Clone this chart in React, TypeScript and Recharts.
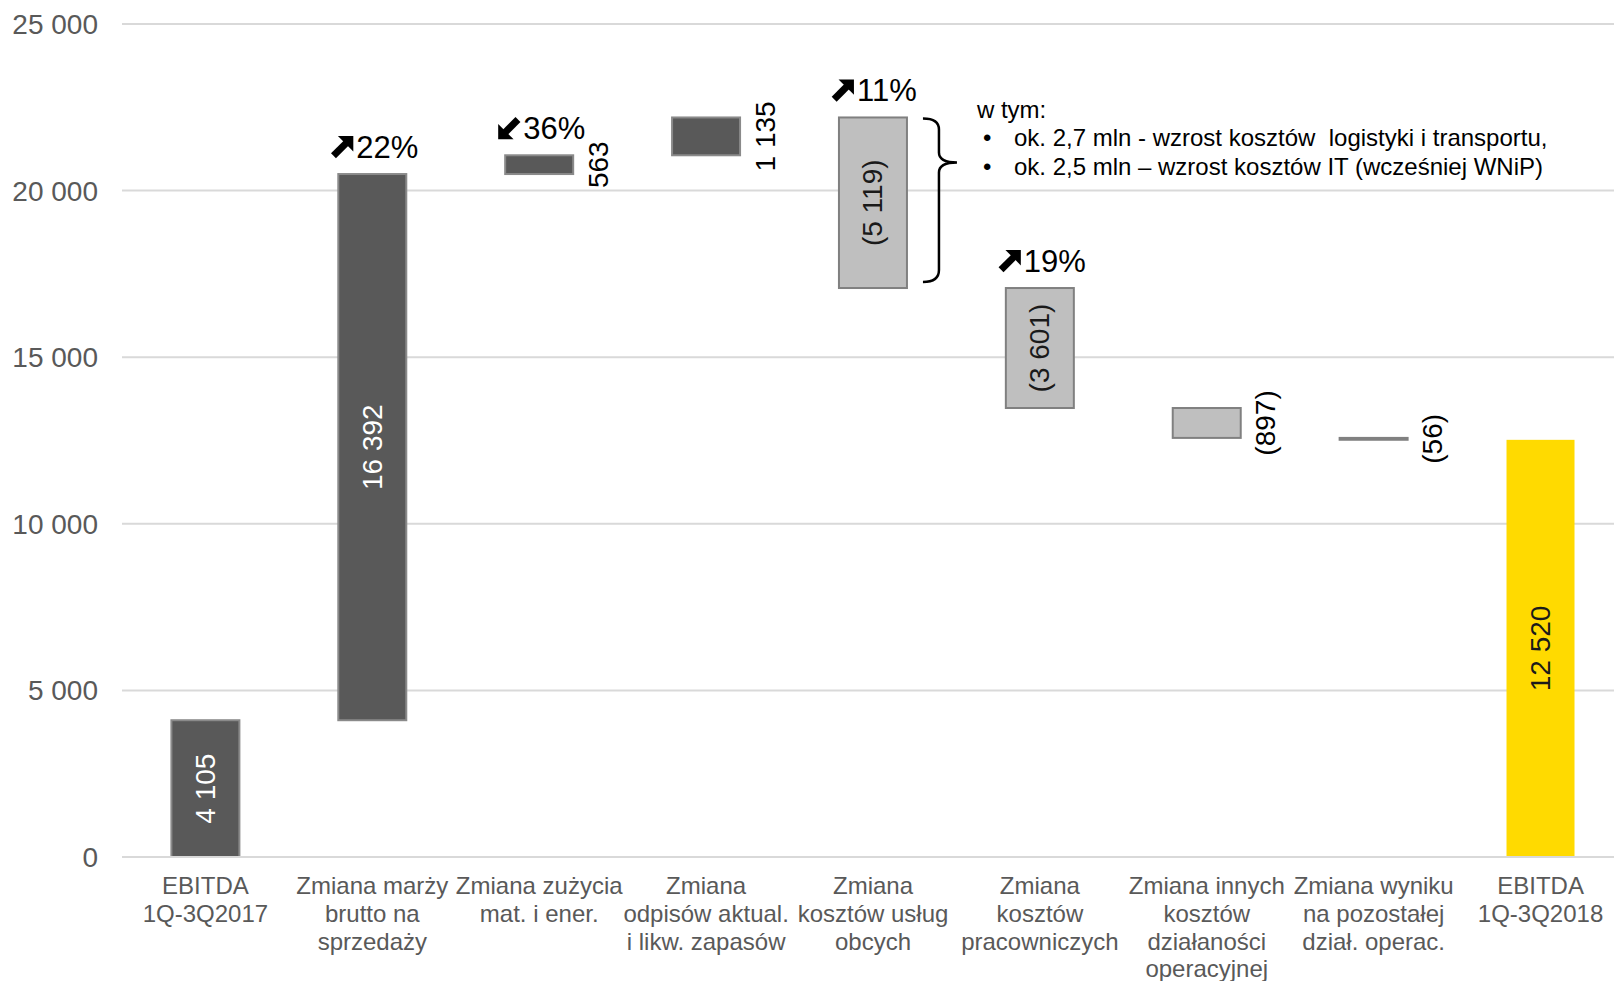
import { Bar, BarChart, CartesianGrid, XAxis, YAxis } from "recharts";

const categories = [
  "EBITDA\n1Q-3Q2017",
  "Zmiana marży\nbrutto na\nsprzedaży",
  "Zmiana zużycia\nmat. i ener.",
  "Zmiana\nodpisów aktual.\ni likw. zapasów",
  "Zmiana\nkosztów usług\nobcych",
  "Zmiana\nkosztów\npracowniczych",
  "Zmiana innych\nkosztów\ndziałaności\noperacyjnej",
  "Zmiana wyniku\nna pozostałej\ndział. operac.",
  "EBITDA\n1Q-3Q2018",
];

// start / change / change ... / end
const changes = [4105, 16392, 563, 1135, -5119, -3601, -897, -56, 12520];
const barKind = ["start", "delta", "delta", "delta", "delta", "delta", "delta", "delta", "end"];

const changePct = ["", "22%", "36%", "", "11%", "19%", "", "", ""];
const pctDir = ["", "up", "down", "", "up", "up", "", "", ""];

const yTicks = [0, 5000, 10000, 15000, 20000, 25000];

const noteIndex = 4;
const noteLines = [
  "w tym:",
  "ok. 2,7 mln - wzrost kosztów  logistyki i transportu,",
  "ok. 2,5 mln – wzrost kosztów IT (wcześniej WNiP)",
];

const FONT = "'Liberation Sans', Arial, sans-serif";

let running = 0;
const rows = changes.map((v, i) => {
  let base = 0;
  let value = v;
  if (barKind[i] !== "delta") {
    running = v;
  } else if (v >= 0) {
    base = running;
    running += v;
  } else {
    running += v;
    base = running;
    value = -v;
  }
  return { name: categories[i], base, value, change: v, i };
});

const fmt = (n: number) =>
  Math.abs(n).toString().replace(/\B(?=(\d{3})+(?!\d))/g, " ");

const barColors = (i: number) => {
  if (barKind[i] === "end") return { fill: "#FFDA00", stroke: "#FFDA00", text: "#1a1a1a" };
  if (changes[i] < 0) return { fill: "#BFBFBF", stroke: "#808080", text: "#1a1a1a" };
  return { fill: "#595959", stroke: "#8a8a8a", text: "#ffffff" };
};

function Arrow({ x, y, dir }: { x: number; y: number; dir: string }) {
  const s = 22;
  if (dir === "up") {
    return (
      <g>
        <polygon points={`${x + s * 0.3},${y} ${x + s},${y} ${x + s},${y + s * 0.7}`} fill="#000" />
        <line x1={x + s * 0.1} y1={y + s * 0.9} x2={x + s * 0.7} y2={y + s * 0.3} stroke="#000" strokeWidth={7} />
      </g>
    );
  }
  return (
    <g>
      <polygon points={`${x},${y + s * 0.3} ${x},${y + s} ${x + s * 0.7},${y + s}`} fill="#000" />
      <line x1={x + s * 0.9} y1={y + s * 0.1} x2={x + s * 0.3} y2={y + s * 0.7} stroke="#000" strokeWidth={7} />
    </g>
  );
}

function WaterfallBar(props: any) {
  const { x, y, width, height, payload } = props;
  const i = payload.i;
  const c = barColors(i);
  const cx = x + width / 2;
  const label = payload.change < 0 ? `(${fmt(payload.change)})` : fmt(payload.change);
  const inside = height > 60;
  const lx = inside ? cx : x + width + 25;
  const ly = y + height / 2;
  const right = x + width;
  return (
    <g>
      <rect
        x={x}
        y={y}
        width={width}
        height={Math.max(height, 1)}
        fill={c.fill}
        stroke={c.stroke}
        strokeWidth={barKind[i] === "end" ? 0 : 2}
      />
      <text
        x={lx}
        y={ly}
        transform={`rotate(-90 ${lx} ${ly})`}
        textAnchor="middle"
        dominantBaseline="central"
        fontSize={28}
        fontFamily={FONT}
        fill={inside ? c.text : "#000"}
      >
        {label}
      </text>
      {changePct[i] && (
        <g>
          <Arrow x={x - 7} y={y - 38} dir={pctDir[i]} />
          <text x={x + 18} y={y - 16} fontSize={31} fontFamily={FONT} fill="#000">
            {changePct[i]}
          </text>
        </g>
      )}
      {i === noteIndex && (
        <g fontFamily={FONT} fontSize={24} fill="#000">
          <path
            d={`M ${right + 16} ${y + 1} Q ${right + 32} ${y + 1} ${right + 32} ${y + 12}
                L ${right + 32} ${y + 35} Q ${right + 32} ${y + 45} ${right + 50} ${y + 45}
                Q ${right + 32} ${y + 45} ${right + 32} ${y + 55}
                L ${right + 32} ${y + height - 18} Q ${right + 32} ${y + height - 6} ${right + 16} ${y + height - 6}`}
            fill="none"
            stroke="#000"
            strokeWidth={2.5}
          />
          <text x={right + 70} y={y + 1}>{noteLines[0]}</text>
          <text x={right + 76} y={y + 29}>•</text>
          <text x={right + 107} y={y + 29} style={{ whiteSpace: "pre" }}>{noteLines[1]}</text>
          <text x={right + 76} y={y + 58}>•</text>
          <text x={right + 107} y={y + 58}>{noteLines[2]}</text>
        </g>
      )}
    </g>
  );
}

function CategoryTick(props: any) {
  const { x, y, payload } = props;
  const lines = String(payload.value).split("\n");
  return (
    <text x={x} y={y + 37} textAnchor="middle" fontSize={24} fontFamily={FONT} fill="#595959">
      {lines.map((l, k) => (
        <tspan key={k} x={x} dy={k === 0 ? 0 : 27.8}>
          {l}
        </tspan>
      ))}
    </text>
  );
}

export default function App() {
  return (
    <div
      style={{
        position: "absolute",
        left: 0,
        top: 0,
        width: 1614,
        height: 981,
        overflow: "hidden",
        background: "#fff",
      }}
    >
      <BarChart
        width={1624}
        height={981}
        data={rows}
        margin={{ top: 24, right: 0, left: 0, bottom: 0 }}
        barCategoryGap="29.6%"
      >
        <CartesianGrid vertical={false} stroke="#D9D9D9" strokeWidth={2} />
        <XAxis
          dataKey="name"
          interval={0}
          height={124}
          tickLine={false}
          tickSize={0}
          tickMargin={0}
          axisLine={{ stroke: "#D9D9D9", strokeWidth: 2 }}
          tick={<CategoryTick />}
        />
        <YAxis
          width={122}
          domain={[0, 25000]}
          ticks={yTicks}
          axisLine={false}
          tickLine={false}
          tickSize={0}
          tickMargin={24}
          tickFormatter={(v: number) => fmt(v)}
          tick={{ fill: "#595959", fontSize: 28, fontFamily: FONT }}
        />
        <Bar dataKey="base" stackId="w" fill="transparent" isAnimationActive={false} />
        <Bar dataKey="value" stackId="w" shape={<WaterfallBar />} isAnimationActive={false} />
      </BarChart>
    </div>
  );
}
